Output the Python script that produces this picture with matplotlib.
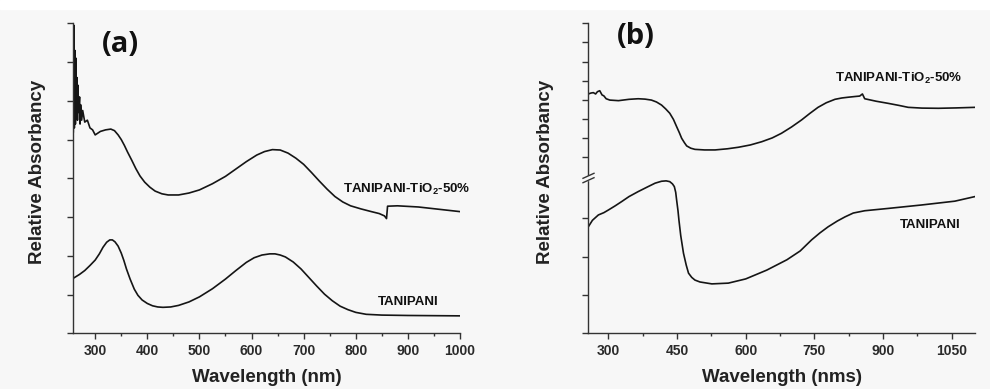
import numpy as np
import matplotlib.pyplot as plt
from matplotlib.lines import Line2D
from matplotlib.patches import Rectangle

# ---- data ----
# panel (a): y in tick units (0..8)
a_tio2_x = [258, 259, 260, 261, 262, 263, 264, 265, 266, 267, 268, 270, 271, 272, 274, 276,
            280, 285, 290, 295, 300, 310, 320, 330, 337, 344, 350, 356, 362, 370, 378, 386,
            395, 405, 415, 428, 440, 460, 480, 500, 525, 550, 570, 590, 610, 625, 640, 655,
            670, 685, 700, 715, 730, 745, 760, 775, 790, 810, 830, 845, 855, 859, 861, 880,
            920, 960, 1000]
a_tio2_y = [5.2, 7.95, 5.3, 7.3, 5.4, 7.1, 5.6, 6.6, 5.5, 6.4, 5.7, 6.1, 5.4, 5.9, 5.5, 5.75,
            5.45, 5.5, 5.3, 5.25, 5.12, 5.21, 5.25, 5.27, 5.23, 5.12, 5.0, 4.85, 4.68, 4.47, 4.25, 4.06,
            3.9, 3.77, 3.67, 3.6, 3.57, 3.57, 3.62, 3.70, 3.86, 4.05, 4.24, 4.43, 4.6, 4.69, 4.74, 4.73,
            4.65, 4.52, 4.36, 4.15, 3.93, 3.72, 3.53, 3.39, 3.29, 3.21, 3.14, 3.09, 3.03, 2.96, 3.28, 3.29,
            3.26, 3.20, 3.14]
a_pani_x = [258, 270, 280, 290, 300, 308, 315, 322, 328, 333, 338, 344, 350, 355, 360, 367,
            375, 382, 390, 400, 410, 420, 430, 445, 460, 480, 500, 525, 550, 570, 590, 605,
            620, 635, 645, 655, 665, 680, 695, 710, 725, 740, 755, 770, 785, 800, 820, 850,
            900, 1000]
a_pani_y = [1.42, 1.52, 1.62, 1.75, 1.89, 2.05, 2.22, 2.35, 2.41, 2.41, 2.36, 2.25, 2.07, 1.88, 1.66, 1.40,
            1.14, 0.98, 0.86, 0.77, 0.71, 0.68, 0.67, 0.68, 0.72, 0.81, 0.94, 1.15, 1.40, 1.62, 1.83, 1.95,
            2.02, 2.05, 2.05, 2.02, 1.97, 1.84, 1.66, 1.44, 1.22, 1.01, 0.84, 0.70, 0.61, 0.54, 0.49, 0.47,
            0.46, 0.45]

# panel (b): upper segment (TiO2) and lower segment (TANIPANI) of the broken axis
b_tio2_x = [256, 262, 267, 272, 276, 281, 286, 290, 295, 303, 322, 345, 365, 380, 394, 405,
            416, 425, 434, 442, 449, 455, 460, 466, 471, 480, 489, 510, 533, 560, 584, 610,
            635, 658, 678, 700, 722, 740, 758, 776, 795, 810, 824, 840, 849, 855, 860, 885,
            911, 935, 955, 985, 1021, 1060, 1101]
b_tio2_y = [4.30, 4.35, 4.37, 4.3, 4.42, 4.47, 4.25, 4.2, 4.05, 3.98, 3.95, 4.02, 4.05, 4.03, 3.98, 3.88,
            3.72, 3.52, 3.29, 2.97, 2.59, 2.27, 1.98, 1.75, 1.58, 1.46, 1.40, 1.37, 1.37, 1.43, 1.51, 1.63,
            1.80, 2.0, 2.24, 2.57, 2.94, 3.28, 3.60, 3.84, 4.02, 4.09, 4.13, 4.17, 4.19, 4.30, 4.05, 3.92,
            3.81, 3.70, 3.60, 3.56, 3.55, 3.57, 3.60]
b_pani_x = [256, 265, 278, 290, 300, 315, 329, 345, 365, 385, 402, 416, 426, 434, 440, 444,
            447, 449, 452, 454, 458, 464, 470, 475, 482, 489, 500, 526, 562, 600, 646, 690,
            719, 744, 762, 780, 800, 817, 835, 860, 911, 984, 1057, 1101]
b_pani_y = [2.78, 2.95, 3.09, 3.15, 3.22, 3.33, 3.44, 3.57, 3.70, 3.82, 3.92, 3.97, 3.98, 3.96, 3.9, 3.83,
            3.68, 3.48, 3.2, 2.96, 2.55, 2.09, 1.78, 1.57, 1.46, 1.39, 1.34, 1.29, 1.31, 1.42, 1.65, 1.92,
            2.15, 2.44, 2.62, 2.78, 2.93, 3.04, 3.14, 3.20, 3.26, 3.35, 3.45, 3.57]

a_xticks = [300, 400, 500, 600, 700, 800, 900, 1000]
b_xticks = [300, 450, 600, 750, 900, 1050]

plt.rcParams['font.family'] = ['Liberation Sans', 'DejaVu Sans']
plt.rcParams['font.weight'] = 'bold'

W, H = 990, 389
bg = '#f7f7f7'
fig = plt.figure(figsize=(9.9, 3.89), dpi=100, facecolor=bg)
fig.patches.append(Rectangle((0, 1 - 9 / H), 1, 9 / H, transform=fig.transFigure,
                             color='white', zorder=0))

def fx(px):
    return px / W

def fy(py):
    return 1 - py / H

spine_c = '#333333'
line_c = '#151515'
tick_c = '#2a2a2a'

def style(ax, bottom=True):
    ax.set_facecolor('none')
    for s in ['top', 'right']:
        ax.spines[s].set_visible(False)
    for s in ['left', 'bottom']:
        ax.spines[s].set_color(spine_c)
        ax.spines[s].set_linewidth(1.0)
    ax.tick_params(axis='both', which='major', direction='out', length=4, width=1,
                   color=spine_c, labelsize=10, labelcolor=tick_c, pad=4)
    ax.tick_params(axis='both', which='minor', direction='out', length=2.5, width=1,
                   color=spine_c)
    ax.tick_params(axis='y', labelleft=False)
    if not bottom:
        ax.spines['bottom'].set_visible(False)
        ax.tick_params(axis='x', which='both', bottom=False, labelbottom=False)

# ---- panel (a) ----
ax_a = fig.add_axes([fx(73.3), fy(333.3), fx(460 - 73.3), (333.3 - 23.3) / H])
style(ax_a)
ax_a.plot(a_tio2_x, a_tio2_y, color=line_c, lw=1.2)
ax_a.plot(a_pani_x, a_pani_y, color=line_c, lw=1.2)
ax_a.set_xlim(258, 1000)
ax_a.set_ylim(0, 8)
ax_a.set_yticks(range(0, 9))
ax_a.set_xticks(a_xticks)
ax_a.set_xticks(np.arange(350, 1000, 100), minor=True)
ax_a.text(348, 7.45, '(a)', fontsize=21, fontweight='bold', family=['Open Sans', 'DejaVu Sans'],
          ha='center', va='center', color='#111111')
ax_a.text(776, 3.72, 'TANIPANI-TiO$_{\\mathregular{2}}$-50%', fontsize=9.5, fontweight='bold',
          ha='left', va='center', color='#111111')
ax_a.text(843, 0.82, 'TANIPANI', fontsize=9.5, fontweight='bold', ha='left', va='center',
          color='#111111')

# ---- panel (b), broken y axis ----
brk = 178
ax_bu = fig.add_axes([fx(588.3), fy(brk), fx(975 - 588.3), (brk - 23.3) / H])
ax_bl = fig.add_axes([fx(588.3), fy(333.3), fx(975 - 588.3), (333.3 - brk) / H])
style(ax_bu, bottom=False)
style(ax_bl)
ax_bu.plot(b_tio2_x, b_tio2_y, color=line_c, lw=1.2)
ax_bl.plot(b_pani_x, b_pani_y, color=line_c, lw=1.2)
for ax in (ax_bu, ax_bl):
    ax.set_xlim(256, 1101)
ax_bu.set_ylim(8 - (brk - 23.3) / 19.1, 8)
ax_bu.set_yticks(range(1, 9))
ax_bl.set_ylim(0, (333.3 - brk) / 38.3)
ax_bl.set_yticks(range(0, 4))
ax_bl.set_xticks(b_xticks)
ax_bl.set_xticks(np.arange(375, 1101, 150), minor=True)
ax_bu.text(360, 7.3, '(b)', fontsize=21, fontweight='bold', family=['Open Sans', 'DejaVu Sans'],
           ha='center', va='center', color='#111111')
ax_bu.text(795, 5.12, 'TANIPANI-TiO$_{\\mathregular{2}}$-50%', fontsize=9.5, fontweight='bold',
           ha='left', va='center', color='#111111')
ax_bl.text(937, 2.83, 'TANIPANI', fontsize=9.5, fontweight='bold', ha='left', va='center',
           color='#111111')

# break marks on the y axis
fig.add_artist(Rectangle((fx(585), fy(brk + 2)), fx(7), 4 / H, transform=fig.transFigure,
                         color=bg, zorder=5))
for dy in (-2.2, 2.2):
    fig.add_artist(Line2D([fx(583), fx(594)], [fy(brk + dy + 2.5), fy(brk + dy - 2.5)],
                          transform=fig.transFigure, color=spine_c, lw=1.0, zorder=6))

# axis titles
for xc, txt in ((266.7, 'Wavelength (nm)'), (781.7, 'Wavelength (nms)')):
    fig.text(fx(xc), fy(378), txt, fontsize=13.5, fontweight='bold', ha='center', va='center',
             color='#222222')
for xc in (38, 545):
    fig.text(fx(xc), fy(171.5), 'Relative Absorbancy', fontsize=13.5, fontweight='bold',
             rotation=90, ha='center', va='center', color='#222222')

fig.savefig('out.png', dpi=100, facecolor=fig.get_facecolor())
